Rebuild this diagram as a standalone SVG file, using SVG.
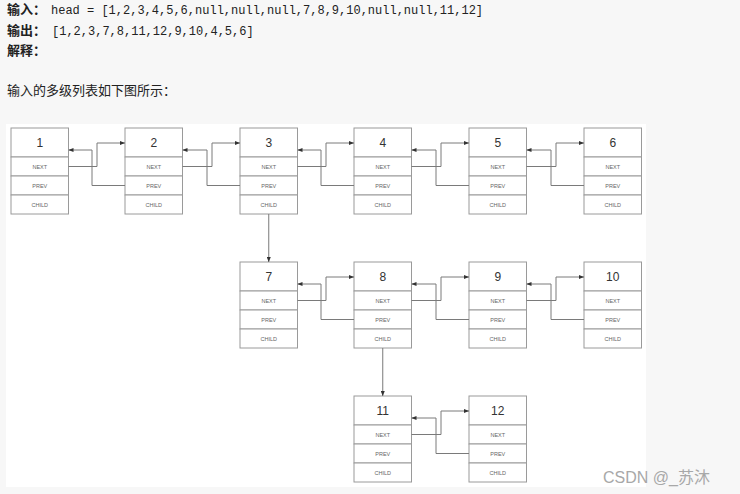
<svg xmlns="http://www.w3.org/2000/svg" width="740" height="494" viewBox="0 0 740 494">
<style>
.page{fill:#f7f7f7}
.box{fill:#ffffff;stroke:#9a9a9a;stroke-width:1}
.num{font-family:"Liberation Sans",Arial,sans-serif;font-size:12px;fill:#333;text-anchor:middle}
.lbl{font-family:"Liberation Sans",Arial,sans-serif;font-size:5.5px;fill:#666;text-anchor:middle}
.conn{fill:none;stroke:#7a7a7a;stroke-width:1}
.hd{font-family:"Noto Sans CJK SC",sans-serif;font-size:13px;font-weight:bold;fill:#222}
.tx{font-family:"Noto Sans CJK SC",sans-serif;font-size:13px;fill:#222}
.mono{font-family:"Liberation Mono","DejaVu Sans Mono",monospace;font-size:12px;fill:#222}
.wm{font-family:"Liberation Sans","Noto Sans CJK SC",sans-serif;font-size:16px;fill:#a8a8a8}
</style>
<defs>
<marker id="arr" markerUnits="userSpaceOnUse" markerWidth="5" markerHeight="4" refX="5" refY="2" orient="auto">
<path d="M0,0 L5,2 L0,4 z" fill="#333"/>
</marker>
<g id="tpl">
<rect class="box" x="0" y="0" width="57.5" height="29"/>
<rect class="box" x="0" y="29" width="57.5" height="19"/>
<rect class="box" x="0" y="48" width="57.5" height="19"/>
<rect class="box" x="0" y="67" width="57.5" height="19"/>
<text class="lbl" x="28.75" y="40.5">NEXT</text>
<text class="lbl" x="28.75" y="59.5">PREV</text>
<text class="lbl" x="28.75" y="78.5">CHILD</text>
</g>
</defs>
<rect class="page" x="0" y="0" width="740" height="494"/>
<g id="header-text">
<text class="hd" x="7" y="14">输入：</text><text class="mono" x="51" y="14">head = [1,2,3,4,5,6,null,null,null,7,8,9,10,null,null,11,12]</text>
<text class="hd" x="7" y="35">输出：</text><text class="mono" x="52" y="35">[1,2,3,7,8,11,12,9,10,4,5,6]</text>
<text class="hd" x="7" y="55">解释：</text>
<text class="tx" x="7" y="95">输入的多级列表如下图所示：</text>
</g>
<rect x="6" y="124" width="640" height="363" fill="#ffffff"/>
<g id="n1" transform="translate(11,128)"><use href="#tpl"/><text class="num" x="28.75" y="19">1</text></g>
<g id="n2" transform="translate(125,128)"><use href="#tpl"/><text class="num" x="28.75" y="19">2</text></g>
<g id="n3" transform="translate(240,128)"><use href="#tpl"/><text class="num" x="28.75" y="19">3</text></g>
<g id="n4" transform="translate(354,128)"><use href="#tpl"/><text class="num" x="28.75" y="19">4</text></g>
<g id="n5" transform="translate(469,128)"><use href="#tpl"/><text class="num" x="28.75" y="19">5</text></g>
<g id="n6" transform="translate(584,128)"><use href="#tpl"/><text class="num" x="28.75" y="19">6</text></g>
<g id="n7" transform="translate(240,262)"><use href="#tpl"/><text class="num" x="28.75" y="19">7</text></g>
<g id="n8" transform="translate(354,262)"><use href="#tpl"/><text class="num" x="28.75" y="19">8</text></g>
<g id="n9" transform="translate(469,262)"><use href="#tpl"/><text class="num" x="28.75" y="19">9</text></g>
<g id="n10" transform="translate(584,262)"><use href="#tpl"/><text class="num" x="28.75" y="19">10</text></g>
<g id="n11" transform="translate(354,396)"><use href="#tpl"/><text class="num" x="28.75" y="19">11</text></g>
<g id="n12" transform="translate(469,396)"><use href="#tpl"/><text class="num" x="28.75" y="19">12</text></g>
<g id="connectors" class="conn" marker-end="url(#arr)">
<path d="M68.5,166.5 H97 V143 H125"/>
<path d="M125,185.5 H92 V150 H68.5"/>
<path d="M182.5,166.5 H212 V143 H240"/>
<path d="M240,185.5 H207 V150 H182.5"/>
<path d="M297.5,166.5 H326 V143 H354"/>
<path d="M354,185.5 H321 V150 H297.5"/>
<path d="M411.5,166.5 H441 V143 H469"/>
<path d="M469,185.5 H436 V150 H411.5"/>
<path d="M526.5,166.5 H556 V143 H584"/>
<path d="M584,185.5 H551 V150 H526.5"/>
<path d="M297.5,300.5 H326 V277 H354"/>
<path d="M354,319.5 H321 V284 H297.5"/>
<path d="M411.5,300.5 H441 V277 H469"/>
<path d="M469,319.5 H436 V284 H411.5"/>
<path d="M526.5,300.5 H556 V277 H584"/>
<path d="M584,319.5 H551 V284 H526.5"/>
<path d="M411.5,434.5 H441 V411 H469"/>
<path d="M469,453.5 H436 V418 H411.5"/>
<path d="M268.75,214 V262"/>
<path d="M382.75,348 V396"/>
</g>
<text class="wm" x="603" y="483">CSDN @_苏沐</text>
</svg>
